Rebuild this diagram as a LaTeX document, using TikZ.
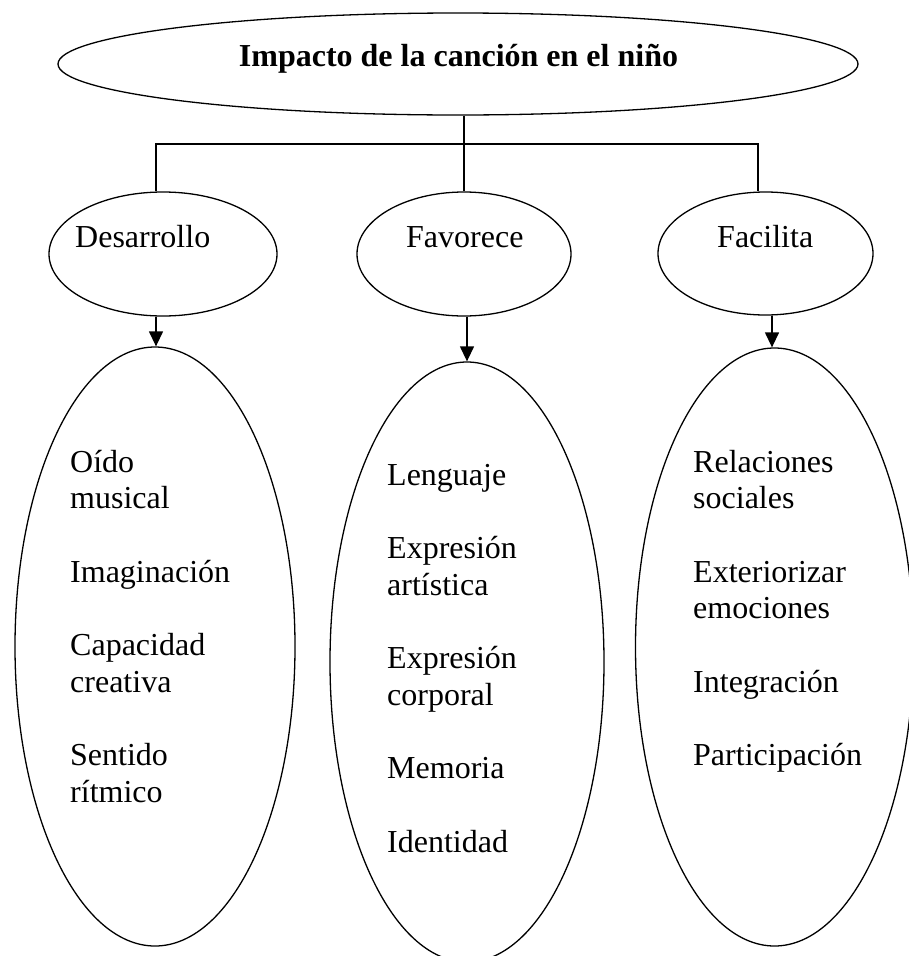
\documentclass[tikz,border=0pt]{standalone}
\usepackage{fontspec}
\setmainfont{Liberation Serif}
\usetikzlibrary{shapes.geometric,arrows.meta}
\begin{document}
\begin{tikzpicture}[x=1pt,y=-1pt,
  oval/.style={draw, ellipse, line width=1.3pt, inner sep=0pt},
  link/.style={line width=1.5pt},
  arr/.style={line width=1.3pt, -{Triangle[length=15pt,width=14pt]}},
  lbl/.style={inner sep=0pt, anchor=base west, font=\fontsize{32}{36.7}\selectfont},
]
\useasboundingbox (0,0) rectangle (909,956);
\clip (0,0) rectangle (909,956);
% top
\node[oval, minimum width=800pt, minimum height=102pt] (top) at (458,64) {};
\node[inner sep=0pt, anchor=base, font=\bfseries\fontsize{32}{36}\selectfont] (title) at (458.5,66) {Impacto de la canción en el niño};
% second row
\node[oval, minimum width=228pt, minimum height=124pt] (des) at (163,254) {};
\node[oval, minimum width=214pt, minimum height=124pt] (fav) at (464,254) {};
\node[oval, minimum width=215pt, minimum height=123pt] (fac) at (765.5,253.5) {};
\node[lbl] (dest) at (75,247) {Desarrollo};
\node[lbl] (favt) at (406,247) {Favorece};
\node[lbl] (fact) at (717,247) {Facilita};
% third row
\node[oval, minimum width=280pt, minimum height=599pt] (des2) at (155,646.5) {};
\node[oval, minimum width=274pt, minimum height=600pt] (fav2) at (467,662) {};
\node[oval, minimum width=278pt, minimum height=598pt] (fac2) at (774.5,647) {};
\node[lbl] (des2t) at (70,472) {\begin{tabular}[t]{@{}l@{}}Oído\\ musical\\ \\ Imaginación\\ \\ Capacidad\\ creativa\\ \\ Sentido\\ rítmico\end{tabular}};
\node[lbl] (fav2t) at (387,485) {\begin{tabular}[t]{@{}l@{}}Lenguaje\\ \\ Expresión\\ artística\\ \\ Expresión\\ corporal\\ \\ Memoria\\ \\ Identidad\end{tabular}};
\node[lbl] (fac2t) at (693,472) {\begin{tabular}[t]{@{}l@{}}Relaciones\\ sociales\\ \\ Exteriorizar\\ emociones\\ \\ Integración\\ \\ Participación\end{tabular}};
% connectors
\coordinate (bl) at (156,144);
\coordinate (br) at (758,144);
\draw[link] (top.south -| fav.north) -- (fav.north);
\draw[link] (bl |- des.north) -- (bl) -- (br) -- (br |- fac.north);
\draw[arr] (des.south -| 156,0) -- (156,0 |- des2.north);
\draw[arr] (fav.south -| fav2.north) -- (fav2.north);
\draw[arr] (fac.south -| 772,0) -- (772,0 |- fac2.north);
\end{tikzpicture}
\end{document}
